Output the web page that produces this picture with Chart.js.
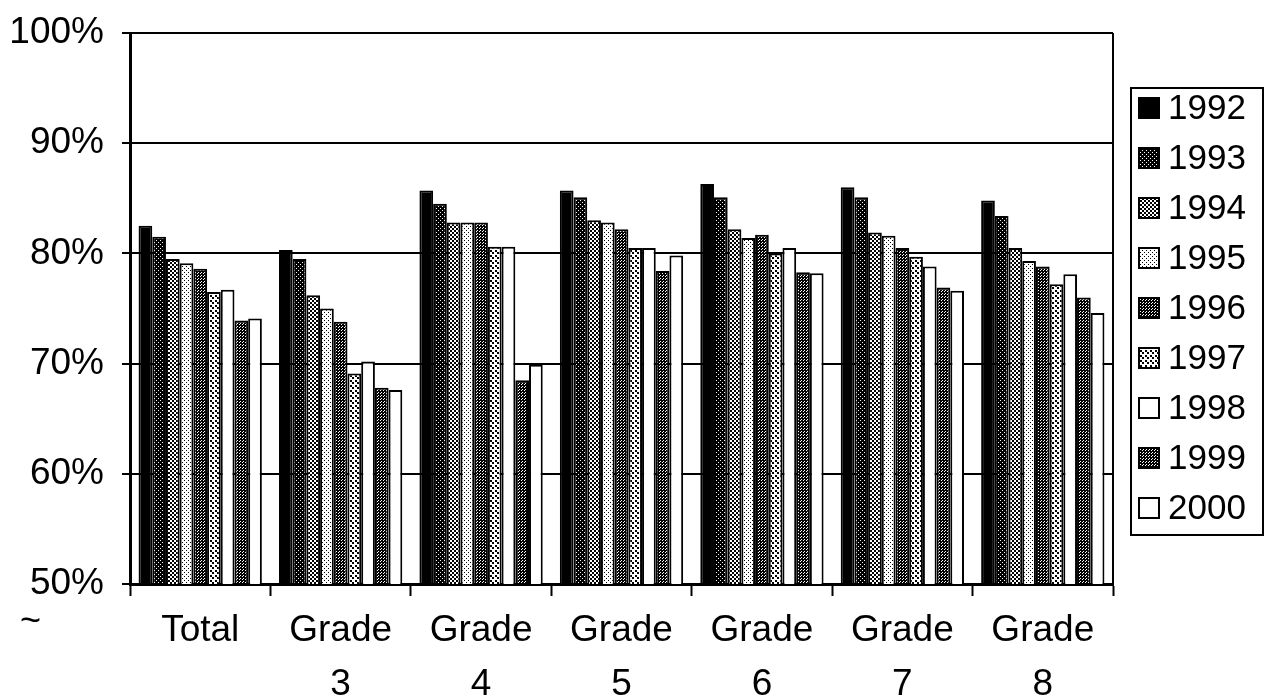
<!DOCTYPE html>
<html>
<head>
<meta charset="utf-8">
<script src="https://cdn.jsdelivr.net/npm/chart.js@4.4.1/dist/chart.umd.min.js"></script>
<style>
  html, body { margin: 0; padding: 0; background: #fff; }
  #wrap { width: 1266px; height: 696px; }
</style>
</head>
<body>
<div id="wrap"><canvas id="myChart" width="1266" height="696"></canvas></div>
<script>
const FONT = '"Liberation Sans", Arial, sans-serif';

const groups = [["Total"], ["Grade", "3"], ["Grade", "4"], ["Grade", "5"], ["Grade", "6"], ["Grade", "7"], ["Grade", "8"]];
const years = ["1992", "1993", "1994", "1995", "1996", "1997", "1998", "1999", "2000"];

// percent per group: Total, Grade 3 ... Grade 8
const y1992 = [82.5, 80.3, 85.7, 85.7, 86.3, 86.0, 84.8];
const y1993 = [81.5, 79.5, 84.5, 85.1, 85.1, 85.1, 83.4];
const y1994 = [79.5, 76.2, 82.8, 83.0, 82.2, 81.9, 80.5];
const y1995 = [79.1, 75.0, 82.8, 82.8, 81.4, 81.6, 79.3];
const y1996 = [78.6, 73.8, 82.8, 82.2, 81.7, 80.5, 78.8];
const y1997 = [76.5, 69.1, 80.6, 80.5, 80.0, 79.7, 77.2];
const y1998 = [76.7, 70.2, 80.6, 80.5, 80.5, 78.8, 78.1];
const y1999 = [73.9, 67.8, 68.5, 78.4, 78.3, 76.9, 76.0];
const y2000 = [74.1, 67.6, 69.9, 79.8, 78.2, 76.6, 74.6];

const yTicks = [50, 60, 70, 80, 90, 100];

// small dotted fills, like the old print shading
function dots(bg, fg, size, r) {
  var c = document.createElement("canvas");
  c.width = size;
  c.height = size;
  var g = c.getContext("2d");
  g.fillStyle = bg;
  g.fillRect(0, 0, size, size);
  g.fillStyle = fg;
  g.fillRect(0, 0, r, r);
  g.fillRect(Math.floor(size / 2), Math.floor(size / 2), r, r);
  return g.createPattern(c, "repeat");
}

const fills = [
  "#000",
  dots("#000", "#fff", 4, 1),
  dots("#fff", "#000", 4, 2),
  dots("#fff", "#000", 4, 1),
  dots("#fff", "#000", 3, 2),
  dots("#fff", "#000", 5, 2),
  "#fff",
  dots("#fff", "#000", 3, 2),
  "#fff"
];

const series = [y1992, y1993, y1994, y1995, y1996, y1997, y1998, y1999, y2000];

const boxedLegend = {
  id: "boxedLegend",
  afterDraw(chart) {
    var ctx = chart.ctx;
    var a = chart.chartArea;
    var left = a.right + 18;
    var top = a.top + 55;
    ctx.save();
    // plot frame, right side
    ctx.strokeStyle = "#000";
    ctx.lineWidth = 2;
    ctx.beginPath();
    ctx.moveTo(a.right, a.top);
    ctx.lineTo(a.right, a.bottom);
    ctx.stroke();
    // legend box
    ctx.strokeRect(left, top, 132, 447);
    ctx.font = "35px " + FONT;
    ctx.textBaseline = "middle";
    ctx.textAlign = "left";
    chart.data.datasets.forEach(function (ds, i) {
      var cy = top + 20 + i * 50;
      ctx.fillStyle = ds.backgroundColor;
      ctx.fillRect(left + 8, cy - 10, 20, 20);
      ctx.strokeRect(left + 8, cy - 10, 20, 20);
      ctx.fillStyle = "#000";
      ctx.fillText(ds.label, left + 37, cy + 1);
    });
    ctx.font = "36px " + FONT;
    ctx.fillText("~", 20, 622);
    ctx.restore();
  }
};

new Chart("myChart", {
  type: "bar",
  data: {
    labels: groups,
    datasets: years.map(function (yr, i) {
      return {
        label: yr,
        data: series[i],
        backgroundColor: fills[i],
        borderColor: "#000",
        borderWidth: 2,
        borderSkipped: "bottom",
        categoryPercentage: 0.878,
        barPercentage: 1.0
      };
    })
  },
  options: {
    responsive: false,
    animation: false,
    devicePixelRatio: 1,
    layout: { padding: { top: 33, right: 153, left: 0, bottom: 0 } },
    plugins: {
      legend: { display: false },
      tooltip: { enabled: false }
    },
    scales: {
      x: {
        afterFit: function (scale) { scale.height = 112; },
        grid: {
          drawOnChartArea: false,
          drawTicks: true,
          tickLength: 12,
          tickColor: "#000",
          tickWidth: 2
        },
        border: { color: "#000", width: 3 },
        ticks: {
          color: "#000",
          padding: 7,
          maxRotation: 0,
          font: { family: FONT, size: 37, lineHeight: 1.48 }
        }
      },
      y: {
        min: 50,
        max: 100,
        afterFit: function (scale) {
          scale.width = 130;
          scale.paddingTop = 0;
          scale.paddingBottom = 0;
        },
        afterBuildTicks: function (scale) {
          scale.ticks = yTicks.map(function (v) { return { value: v }; });
        },
        grid: {
          color: "#000",
          lineWidth: 2,
          drawTicks: true,
          tickLength: 8,
          tickColor: "#000",
          tickWidth: 2
        },
        border: { color: "#000", width: 3 },
        ticks: {
          color: "#000",
          padding: 18,
          font: { family: FONT, size: 37 },
          callback: function (v) { return v + "%"; }
        }
      }
    }
  },
  plugins: [boxedLegend]
});
</script>
</body>
</html>
